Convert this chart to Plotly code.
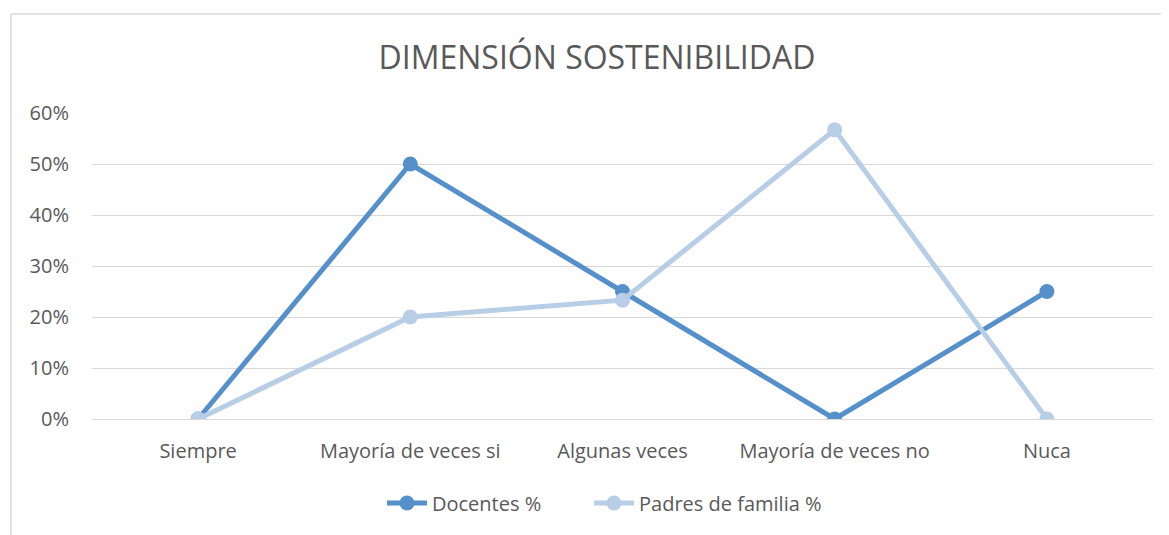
import plotly.graph_objects as go

categories = ["Siempre", "Mayoría de veces si", "Algunas veces", "Mayoría de veces no", "Nuca"]
docentes = [0.0, 0.50, 0.25, 0.0, 0.25]
padres = [0.0, 0.20, 0.233, 0.567, 0.0]
y_ticks = [0, 0.1, 0.2, 0.3, 0.4, 0.5, 0.6]

FONT = "Open Sans"
TXT = "#595959"
OFF = 8  # page body margin

fig = go.Figure()
fig.add_trace(go.Scatter(
    x=categories, y=docentes, name="Docentes %", mode="lines+markers",
    line=dict(color="#5590CB", width=5), marker=dict(size=15, color="#5590CB"),
    legend="legend"))
fig.add_trace(go.Scatter(
    x=categories, y=padres, name="Padres de familia %", mode="lines+markers",
    line=dict(color="#B8CDE6", width=5), marker=dict(size=15, color="#B8CDE6"),
    legend="legend2"))

W, H = 1169 - OFF, 535 - OFF
L = 92 - OFF
T = 113 - OFF
B = H - (419 - OFF)
R = W - (1153 - OFF)
pw, ph = W - L - R, H - T - B

def px(xs):
    return (xs - OFF - L) / pw

def py(ys):
    return (H - B - (ys - OFF)) / ph

leg_common = dict(orientation="h", xanchor="left", y=py(503), yanchor="middle",
                  font=dict(size=20, color=TXT), itemwidth=40, bgcolor="rgba(0,0,0,0)")

fig.update_layout(
    width=W, height=H,
    margin=dict(l=L, r=R, t=T, b=B),
    paper_bgcolor="white", plot_bgcolor="white",
    font=dict(family=FONT, color=TXT, size=20),
    title=dict(text="DIMENSIÓN SOSTENIBILIDAD", x=(597 - OFF) / W, xanchor="center",
               y=1 - (58 - OFF) / H, yanchor="middle",
               font=dict(size=32, color=TXT, family=FONT)),
    showlegend=True,
    legend=dict(x=px(382), **leg_common),
    legend2=dict(x=px(589), **leg_common),
    xaxis=dict(type="category", categoryorder="array", categoryarray=categories,
               showgrid=False, zeroline=False, showline=False, ticks="",
               ticklabelstandoff=18, tickfont=dict(size=20, color=TXT),
               range=[-0.5, len(categories) - 0.5]),
    yaxis=dict(range=[0, 0.6], tickvals=y_ticks, tickformat=".0%",
               showgrid=True, gridcolor="#D9D9D9", gridwidth=1.3,
               zeroline=True, zerolinecolor="#D9D9D9", zerolinewidth=1.3,
               showline=False, ticks="", ticklabelstandoff=22,
               tickfont=dict(size=20, color=TXT)),
    shapes=[
        dict(type="line", xref="paper", yref="paper", x0=px(11), x1=px(1180),
             y0=py(14), y1=py(14), line=dict(color="#D9D9D9", width=1.5)),
        dict(type="line", xref="paper", yref="paper", x0=px(11), x1=px(11),
             y0=py(14), y1=py(545), line=dict(color="#D9D9D9", width=1.5)),
    ],
)

fig.write_html("out.html")
